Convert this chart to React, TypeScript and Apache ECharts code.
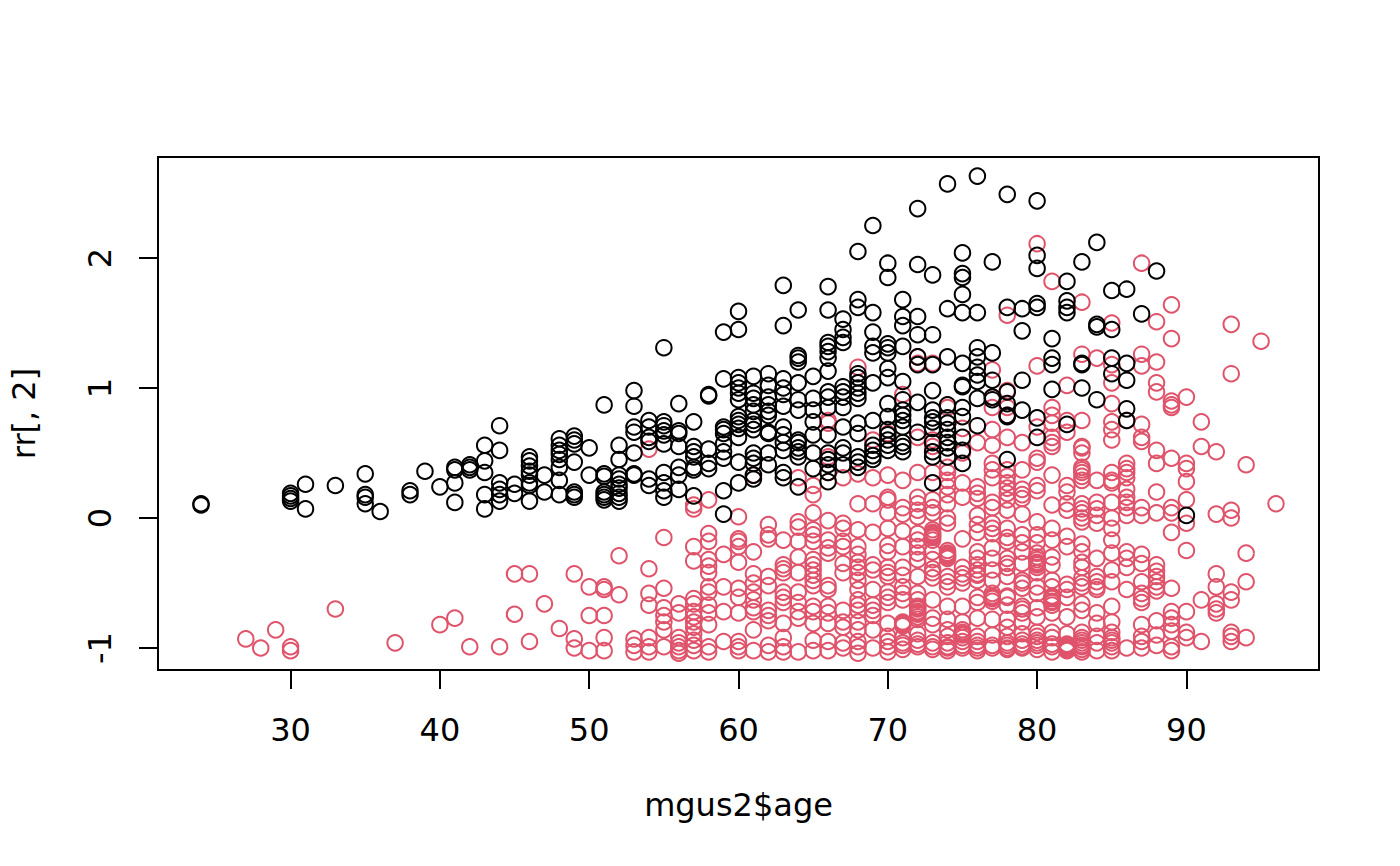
import React, { useEffect, useRef } from "react";
import * as echarts from "echarts";

const xTicks = [30, 40, 50, 60, 70, 80, 90];
const yTicks = [-1, 0, 1, 2];

const blackByAge: [number, number[]][] = [
  [24, [0.11, 0.1]],
  [30, [0.13, 0.15, 0.17, 0.19]],
  [31, [0.26, 0.07]],
  [33, [0.25]],
  [35, [0.34, 0.18, 0.16, 0.11]],
  [36, [0.05]],
  [38, [0.21, 0.18]],
  [39, [0.36]],
  [40, [0.24]],
  [41, [0.39, 0.37, 0.27, 0.12]],
  [42, [0.41, 0.39, 0.37]],
  [43, [0.56, 0.44, 0.35, 0.18, 0.07]],
  [44, [0.71, 0.52, 0.27, 0.22, 0.18, 0.13]],
  [45, [0.26, 0.19]],
  [46, [0.47, 0.44, 0.4, 0.36, 0.33, 0.27, 0.25, 0.13]],
  [47, [0.33, 0.2]],
  [48, [0.61, 0.56, 0.52, 0.49, 0.45, 0.39, 0.29, 0.18]],
  [49, [0.63, 0.6, 0.57, 0.43, 0.2, 0.18, 0.16]],
  [50, [0.54, 0.33]],
  [51, [0.87, 0.34, 0.32, 0.2, 0.18, 0.16, 0.14]],
  [52, [0.56, 0.45, 0.33, 0.3, 0.26, 0.23, 0.19, 0.16, 0.13]],
  [53, [0.98, 0.86, 0.7, 0.66, 0.5, 0.34, 0.33]],
  [54, [0.75, 0.7, 0.62, 0.59, 0.3, 0.25]],
  [55, [1.31, 0.74, 0.71, 0.67, 0.64, 0.57, 0.35, 0.27, 0.21, 0.16]],
  [56, [0.88, 0.67, 0.65, 0.55, 0.39, 0.33, 0.22]],
  [57, [0.74, 0.55, 0.51, 0.47, 0.39, 0.37, 0.17]],
  [58, [0.95, 0.94, 0.53, 0.42, 0.38]],
  [59, [1.43, 1.07, 0.7, 0.68, 0.65, 0.57, 0.51, 0.46, 0.21, 0.03]],
  [60, [1.59, 1.45, 1.08, 1.04, 1.0, 0.96, 0.91, 0.78, 0.75, 0.72, 0.69, 0.62, 0.43, 0.27]],
  [61, [1.09, 0.96, 0.92, 0.87, 0.82, 0.75, 0.72, 0.68, 0.5, 0.46, 0.42, 0.33, 0.3]],
  [62, [1.11, 1.02, 0.93, 0.87, 0.82, 0.79, 0.66, 0.65, 0.5, 0.41]],
  [63, [1.79, 1.48, 1.07, 1.0, 0.95, 0.86, 0.7, 0.64, 0.58, 0.52, 0.35, 0.31]],
  [64, [1.6, 1.25, 1.23, 1.2, 1.04, 0.91, 0.83, 0.6, 0.58, 0.54, 0.51, 0.47, 0.24]],
  [65, [1.09, 0.92, 0.83, 0.74, 0.64, 0.5, 0.38]],
  [66, [1.78, 1.6, 1.35, 1.32, 1.28, 1.23, 1.13, 0.97, 0.93, 0.85, 0.64, 0.5, 0.45, 0.41, 0.35, 0.28]],
  [67, [1.53, 1.45, 1.39, 1.35, 1.01, 0.97, 0.93, 0.85, 0.7, 0.54, 0.5, 0.41]],
  [68, [2.05, 1.68, 1.62, 1.11, 1.08, 1.04, 1.0, 0.96, 0.92, 0.73, 0.65, 0.47, 0.43, 0.39]],
  [69, [2.25, 1.58, 1.43, 1.32, 1.27, 1.04, 0.75, 0.56, 0.52, 0.48, 0.45]],
  [70, [1.96, 1.85, 1.34, 1.31, 1.27, 1.15, 1.08, 0.88, 0.78, 0.68, 0.64, 0.6, 0.56, 0.52]],
  [71, [1.68, 1.55, 1.48, 1.32, 1.05, 0.91, 0.83, 0.79, 0.75, 0.7, 0.58, 0.55, 0.51]],
  [72, [2.38, 1.95, 1.55, 1.41, 1.24, 1.18, 0.89, 0.66]],
  [73, [1.87, 1.41, 1.18, 0.98, 0.83, 0.77, 0.74, 0.69, 0.58, 0.51, 0.47, 0.27]],
  [74, [2.57, 1.61, 1.24, 0.87, 0.77, 0.73, 0.68, 0.62, 0.58, 0.54, 0.47]],
  [75, [2.04, 1.88, 1.85, 1.72, 1.58, 1.19, 1.02, 1.01, 0.85, 0.78, 0.62, 0.52, 0.42]],
  [76, [2.63, 1.58, 1.31, 1.24, 1.16, 1.1, 1.05, 0.92, 0.71]],
  [77, [1.97, 1.27, 1.06, 0.93, 0.91]],
  [78, [2.49, 1.62, 0.97, 0.88, 0.79, 0.78, 0.45]],
  [79, [1.61, 1.44, 1.06, 0.83]],
  [80, [2.44, 2.02, 1.92, 1.65, 1.62, 0.77, 0.62]],
  [81, [1.38, 1.23, 1.18, 0.99]],
  [82, [1.82, 1.67, 1.62, 1.58, 0.72]],
  [83, [1.97, 1.19, 1.18, 1.0]],
  [84, [2.12, 1.49, 1.47, 0.91]],
  [85, [1.75, 1.45, 1.23, 1.11]],
  [86, [1.76, 1.19, 1.06, 0.84, 0.75]],
  [87, [1.57]],
  [88, [1.9]],
  [90, [0.02]],
];

const redByAge: [number, number[]][] = [
  [27, [-0.93]],
  [28, [-1.0]],
  [29, [-0.86]],
  [30, [-0.99, -1.02]],
  [33, [-0.7]],
  [37, [-0.96]],
  [40, [-0.82]],
  [41, [-0.77]],
  [42, [-0.99]],
  [44, [-0.99]],
  [45, [-0.43, -0.74]],
  [46, [-0.43, -0.95]],
  [47, [-0.66]],
  [48, [-0.85]],
  [49, [-0.43, -0.93, -1.0]],
  [50, [-0.53, -0.75, -1.02]],
  [51, [-0.53, -0.55, -0.75, -0.92, -1.02]],
  [52, [-0.29, -0.59]],
  [53, [-0.93, -0.98, -1.03]],
  [54, [0.53, -0.39, -0.58, -0.67, -0.92, -0.99, -1.03]],
  [55, [-0.15, -0.54, -0.69, -0.75, -0.8, -0.86, -0.99]],
  [56, [-0.66, -0.73, -0.92, -0.96, -0.99, -1.02, -1.04]],
  [57, [0.1, 0.07, -0.22, -0.33, -0.62, -0.66, -0.72, -0.76, -0.8, -0.84, -0.89, -0.94, -0.98, -1.02]],
  [58, [0.14, -0.12, -0.18, -0.32, -0.37, -0.42, -0.53, -0.57, -0.67, -0.73, -0.82, -0.99, -1.03]],
  [59, [-0.28, -0.53, -0.72, -0.95]],
  [60, [0.01, -0.16, -0.18, -0.22, -0.34, -0.54, -0.61, -0.73, -0.95, -0.99, -1.02]],
  [61, [0.33, -0.26, -0.43, -0.5, -0.57, -0.63, -0.69, -0.72, -0.86, -1.02]],
  [62, [-0.05, -0.13, -0.16, -0.45, -0.52, -0.71, -0.75, -0.79, -0.98, -1.03]],
  [63, [-0.17, -0.36, -0.39, -0.42, -0.57, -0.61, -0.65, -0.81, -0.92, -0.99, -1.03]],
  [64, [0.31, -0.03, -0.07, -0.18, -0.3, -0.42, -0.57, -0.65, -0.72, -0.77, -1.03]],
  [65, [0.25, 0.18, 0.04, -0.09, -0.13, -0.18, -0.32, -0.36, -0.4, -0.44, -0.48, -0.52, -0.68, -0.72, -0.81, -0.94, -1.02]],
  [66, [0.75, 0.73, 0.47, 0.35, -0.02, -0.17, -0.23, -0.27, -0.52, -0.55, -0.68, -0.73, -0.81, -0.95, -1.02]],
  [67, [0.31, -0.04, -0.08, -0.18, -0.22, -0.35, -0.42, -0.71, -0.8, -0.84, -0.96, -1.0]],
  [68, [1.16, 0.34, 0.11, -0.09, -0.22, -0.28, -0.34, -0.38, -0.42, -0.48, -0.55, -0.63, -0.67, -0.71, -0.8, -0.86, -0.95, -0.99, -1.04]],
  [69, [0.6, 0.31, 0.11, -0.11, -0.36, -0.4, -0.55, -0.67, -0.71, -0.75, -0.86, -1.0]],
  [70, [0.65, 0.33, 0.16, 0.14, 0.04, -0.08, -0.21, -0.26, -0.38, -0.42, -0.45, -0.57, -0.61, -0.65, -0.81, -0.91, -0.95, -0.99, -1.03]],
  [71, [0.95, 0.29, 0.08, 0.03, -0.1, -0.22, -0.38, -0.44, -0.53, -0.58, -0.63, -0.81, -0.92, -0.96, -1.01]],
  [72, [1.24, 1.19, 0.62, 0.35, 0.16, 0.11, 0.06, 0.01, -0.12, -0.17, -0.22, -0.27, -0.32, -0.45, -0.58, -0.63, -0.68, -0.73, -0.78, -0.89, -0.94, -0.99]],
  [73, [1.19, 0.6, 0.55, 0.35, 0.14, 0.08, 0.04, -0.09, -0.12, -0.14, -0.17, -0.26, -0.32, -0.39, -0.42, -0.46, -0.63, -0.77, -0.82, -1.01]],
  [74, [0.85, 0.39, 0.35, 0.29, 0.24, 0.18, 0.11, 0.0, -0.04, -0.25, -0.28, -0.31, -0.45, -0.49, -0.53, -0.68, -0.78, -0.86, -0.91, -0.96, -1.02]],
  [75, [0.69, 0.5, 0.27, 0.16, -0.16, -0.38, -0.43, -0.46, -0.5, -0.68, -0.8, -0.86, -0.9, -0.95, -1.0]],
  [76, [0.58, 0.24, 0.19, 0.15, 0.02, -0.05, -0.11, -0.26, -0.31, -0.36, -0.4, -0.44, -0.48, -0.61, -0.65, -0.77, -0.91, -0.95, -1.0]],
  [77, [1.14, 0.93, 0.85, 0.68, 0.56, 0.42, 0.37, 0.31, 0.12, 0.08, -0.04, -0.08, -0.12, -0.23, -0.31, -0.4, -0.48, -0.61, -0.78, -0.9, -1.0]],
  [78, [1.56, 0.98, 0.85, 0.79, 0.62, 0.37, 0.32, 0.27, 0.23, 0.19, 0.14, 0.06, -0.08, -0.15, -0.18, -0.31, -0.38, -0.45, -0.61, -0.67, -0.78, -0.84, -0.91, -0.96, -1.01]],
  [79, [0.58, 0.37, 0.22, 0.18, 0.15, 0.03, -0.13, -0.19, -0.26, -0.35, -0.48, -0.54, -0.68, -0.73, -0.8, -0.89, -0.94, -0.99]],
  [80, [2.11, 1.17, 0.7, 0.46, 0.43, 0.25, 0.21, -0.03, -0.13, -0.19, -0.27, -0.34, -0.38, -0.42, -0.53, -0.58, -0.69, -0.76, -0.88, -0.91, -0.96, -1.01]],
  [81, [1.82, 0.85, 0.79, 0.73, 0.62, 0.58, 0.55, 0.33, 0.1, -0.08, -0.17, -0.3, -0.36, -0.48, -0.53, -0.62, -0.67, -0.73, -0.88, -0.92, -0.99, -1.03]],
  [82, [1.02, 0.75, 0.66, 0.25, 0.2, 0.11, 0.06, -0.14, -0.22, -0.51, -0.55, -0.61, -0.76, -0.89, -0.98, -1.01]],
  [83, [1.66, 1.26, 0.75, 0.55, 0.54, 0.5, 0.39, 0.37, 0.35, 0.32, 0.29, 0.11, 0.07, 0.04, 0.0, -0.03, -0.2, -0.26, -0.34, -0.38, -0.46, -0.5, -0.53, -0.66, -0.71, -0.88, -0.92, -0.96, -0.99, -1.03]],
  [84, [1.23, 0.29, 0.12, 0.07, 0.02, -0.04, -0.31, -0.45, -0.49, -0.53, -0.55, -0.73, -0.81, -0.91, -0.96, -1.02]],
  [85, [1.5, 1.18, 1.04, 0.88, 0.74, 0.68, 0.6, 0.35, 0.29, 0.27, 0.12, 0.0, -0.08, -0.17, -0.27, -0.4, -0.49, -0.68, -0.8, -0.88, -0.92, -0.96, -1.02]],
  [86, [0.75, 0.42, 0.38, 0.35, 0.31, 0.22, 0.16, 0.12, 0.08, 0.02, -0.26, -0.31, -0.38, -0.55, -1.0]],
  [87, [1.96, 1.26, 1.17, 0.72, 0.62, 0.59, 0.08, 0.02, -0.28, -0.35, -0.49, -0.58, -0.62, -0.65, -0.82, -0.91, -0.95, -1.0]],
  [88, [1.51, 1.2, 1.04, 0.97, 0.52, 0.42, 0.2, 0.04, -0.36, -0.41, -0.45, -0.49, -0.53, -0.56, -0.79, -0.9, -0.98]],
  [89, [1.64, 1.38, 0.9, 0.87, 0.85, 0.46, 0.08, 0.04, -0.11, -0.54, -0.72, -0.77, -0.82, -0.87, -0.99, -1.02]],
  [90, [0.93, 0.42, 0.38, 0.28, 0.14, -0.04, -0.25, -0.72, -0.88, -0.92]],
  [91, [0.74, 0.55, -0.63, -0.95]],
  [92, [0.51, 0.03, -0.43, -0.53, -0.66, -0.7, -0.73]],
  [93, [1.49, 1.11, 0.06, 0.0, -0.57, -0.63, -0.88, -0.91, -0.95]],
  [94, [0.41, -0.27, -0.49, -0.92]],
  [95, [1.36]],
  [96, [0.11]],
];

// Overlapping circles read from the dense red clusters.
const redClusters: [number, number[]][] = [
  [71, [-0.8, -0.82, -0.83, -0.98]],
  [72, [-0.69, -0.7, -0.72, -0.74, -0.76, -0.97]],
  [73, [-0.11, -0.13, -0.15, -0.96, -0.99]],
  [74, [-0.27, -0.29, -0.3, -0.99, -1.0]],
  [75, [-0.88, -0.89, -0.92, -0.98]],
  [76, [-0.98, -1.02, -0.43]],
  [77, [-0.58, -0.6, -0.62, -0.64, -0.98]],
  [78, [-0.98, -1.0, -0.35, -0.6]],
  [79, [-0.97, -1.0, -0.5, -0.7]],
  [80, [-0.3, -0.32, -0.35, -0.36, -0.94, -0.98]],
  [81, [-0.6, -0.61, -0.64, -0.65, -0.97]],
  [82, [-0.97, -0.99, -1.0, -1.02]],
  [83, [-0.94, -0.98, -1.01]],
  [85, [-0.94, -0.99]],
];

const toPairs = (rows: [number, number[]][]) =>
  rows.flatMap(([age, values]) => values.map((v) => [age, v]));

export default function App() {
  const ref = useRef<HTMLDivElement>(null);
  useEffect(() => {
    const chart = echarts.init(ref.current!, null, { renderer: "svg" });
    const font = { fontFamily: "DejaVu Sans", fontSize: 32, color: "#000" };
    const circle = (data: number[][], color: string, z: number) => ({
      type: "scatter",
      data,
      z,
      symbol: "circle",
      symbolSize: 15.5,
      silent: true,
      itemStyle: { color: "transparent", borderColor: color, borderWidth: 2, opacity: 1 },
    });
    chart.setOption({
      animation: false,
      backgroundColor: "#fff",
      grid: {
        show: true,
        left: 157,
        right: 81,
        top: 157,
        bottom: 196,
        borderColor: "#000",
        borderWidth: 2,
        backgroundColor: "transparent",
      },
      xAxis: {
        type: "value",
        min: 21.12,
        max: 98.88,
        splitLine: { show: false },
        axisLine: { show: false, onZero: false },
        axisTick: { show: true, length: 19, lineStyle: { color: "#000", width: 2 }, customValues: xTicks },
        axisLabel: { ...font, margin: 44, customValues: xTicks, formatter: (v: number) => String(v) },
        name: "mgus2$age",
        nameLocation: "middle",
        nameGap: 119,
        nameTextStyle: font,
      },
      yAxis: {
        type: "value",
        min: -1.169,
        max: 2.777,
        splitLine: { show: false },
        axisLine: { show: false, onZero: false },
        axisTick: { show: true, length: 19, lineStyle: { color: "#000", width: 2 }, customValues: yTicks },
        axisLabel: { ...font, margin: 42, rotate: 90, customValues: yTicks, formatter: (v: number) => String(v) },
        name: "rr[, 2]",
        nameLocation: "middle",
        nameGap: 118,
        nameRotate: 90,
        nameTextStyle: font,
      },
      series: [
        circle([...toPairs(redByAge), ...toPairs(redClusters)], "#DF536B", 2),
        circle(toPairs(blackByAge), "#000000", 3),
      ],
    });
    return () => chart.dispose();
  }, []);
  return <div ref={ref} style={{ position: "absolute", left: 0, top: 0, width: 1400, height: 866 }} />;
}
